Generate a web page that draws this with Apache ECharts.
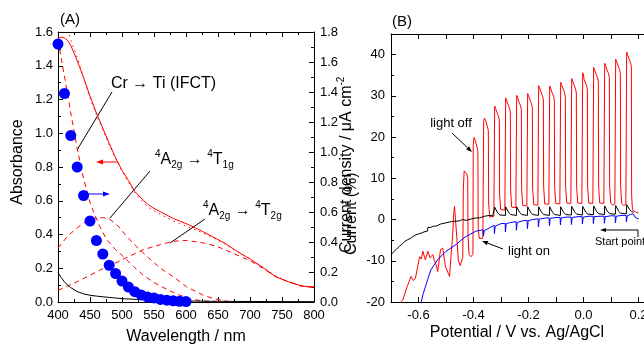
<!DOCTYPE html>
<html>
<head>
<meta charset="utf-8">
<script src="https://cdn.jsdelivr.net/npm/echarts@6/dist/echarts.min.js"></script>
<style>
  html, body { margin: 0; padding: 0; background: #fff; }
  #chart { width: 644px; height: 346px; }
</style>
</head>
<body>
<div id="chart"></div>
<script>
// ---------- panel (A): absorption spectrum + action spectrum ----------
const wl = [400, 405, 410, 415, 420, 430, 440, 450, 460, 470, 480, 490, 500, 510, 520, 530, 540, 550, 560, 570, 580, 590, 600, 620, 640, 660, 680, 700, 720, 740, 760, 780, 800];
const absMeasured = [1.56, 1.57, 1.565, 1.55, 1.52, 1.43, 1.33, 1.22, 1.12, 1.03, 0.94, 0.855, 0.78, 0.72, 0.655, 0.615, 0.58, 0.555, 0.535, 0.515, 0.495, 0.48, 0.465, 0.43, 0.39, 0.35, 0.30, 0.255, 0.205, 0.15, 0.12, 0.095, 0.09];
const absFit = [1.80, 1.72, 1.66, 1.61, 1.55, 1.45, 1.33, 1.21, 1.11, 1.02, 0.93, 0.85, 0.775, 0.71, 0.65, 0.60, 0.565, 0.54, 0.52, 0.50, 0.48, 0.465, 0.45, 0.42, 0.385, 0.345, 0.30, 0.255, 0.205, 0.155, 0.12, 0.095, 0.085];

const ifctWl = [400, 410, 420, 430, 440, 450, 456, 465, 476, 490, 502, 518, 533, 550, 570, 590, 610, 630, 650];
const ifctAbs = [1.55, 1.34, 1.12, 0.91, 0.73, 0.59, 0.53, 0.45, 0.37, 0.31, 0.27, 0.21, 0.16, 0.115, 0.075, 0.04, 0.015, 0.005, 0];

const t1gWl = [400, 415, 430, 445, 461, 471, 481, 494, 507, 522, 539, 560, 580, 601, 627, 643, 670];
const t1gAbs = [0.32, 0.39, 0.44, 0.48, 0.50, 0.50, 0.49, 0.45, 0.39, 0.33, 0.27, 0.20, 0.15, 0.09, 0.04, 0.02, 0];

const t2gWl = [400, 430, 466, 500, 533, 560, 580, 601, 627, 648, 670, 700, 720, 740, 760, 780, 800];
const t2gAbs = [0.07, 0.12, 0.19, 0.25, 0.31, 0.34, 0.36, 0.365, 0.35, 0.33, 0.295, 0.245, 0.20, 0.15, 0.12, 0.095, 0.085];

const bareWl = [400, 405, 410, 415, 420, 430, 440, 450, 460, 480, 500, 525, 550, 600, 650, 700, 800];
const bareAbs = [0.175, 0.145, 0.12, 0.10, 0.085, 0.062, 0.048, 0.04, 0.035, 0.027, 0.02, 0.015, 0.012, 0.006, 0.004, 0.003, 0.002];

const actionWl = [400, 410, 420, 430, 440, 450, 460, 470, 480, 490, 500, 510, 520, 530, 540, 550, 560, 570, 580, 590, 600];
const actionCurrent = [1.72, 1.39, 1.11, 0.90, 0.71, 0.54, 0.41, 0.32, 0.245, 0.19, 0.14, 0.10, 0.069, 0.047, 0.033, 0.027, 0.017, 0.012, 0.008, 0.005, 0.003];

// ---------- panel (B): chopped-light scans, [potential V, current uA cm-2] ----------
const redScan = [
  [-0.69, -24], [-0.675, -21.5], [-0.669, -20.3], [-0.657, -19.5], [-0.651, -19.1], [-0.645, -17], [-0.639, -15.9],
  [-0.627, -13.8], [-0.619, -14.8], [-0.611, -14.2], [-0.603, -11.4], [-0.596, -9.0], [-0.59, -9.6], [-0.584, -7.7],
  [-0.575, -9.8], [-0.566, -7.7], [-0.558, -9.3], [-0.548, -8.5], [-0.542, -10], [-0.536, -11], [-0.53, -12.6],
  [-0.524, -12.2], [-0.52, -7.3], [-0.512, -6.9], [-0.502, -11.4], [-0.492, -13], [-0.487, -13.8], [-0.481, -8.1],
  [-0.476, -4.1], [-0.472, 1.5], [-0.469, 3.2], [-0.466, 0.5], [-0.461, -4.1], [-0.455, -10], [-0.448, -11.2], [-0.442, -11.0],
  [-0.439, -9], [-0.437, 7.3], [-0.434, 11.8], [-0.43, 12.2], [-0.424, 11.0], [-0.421, 10.0], [-0.42, -4], [-0.416, -8.5], [-0.41, -9.0], [-0.404, -8.8],
  [-0.402, -8.5], [-0.401, 18], [-0.398, 19.9], [-0.393, 19.0], [-0.387, 17.5], [-0.384, 16.5], [-0.383, -2], [-0.379, -4.6], [-0.372, -4.9], [-0.366, -4.5],
  [-0.364, -4.3], [-0.363, 24.0], [-0.36, 24.6], [-0.355, 23.8], [-0.349, 22.5], [-0.346, 21.5], [-0.345, 4], [-0.341, 0.6], [-0.334, 0.3], [-0.326, 0.8],
  [-0.324, 1.0], [-0.323, 27.5], [-0.32, 27.0], [-0.315, 26.0], [-0.309, 25.0], [-0.306, 24.0], [-0.305, 6], [-0.301, 2.4], [-0.294, 2.0], [-0.286, 2.3],
  [-0.284, 2.4], [-0.283, 29.5], [-0.28, 29.0], [-0.275, 28.0], [-0.269, 27.0], [-0.266, 26.0], [-0.265, 7], [-0.261, 3.0], [-0.254, 2.6], [-0.246, 2.9],
  [-0.244, 3.0], [-0.243, 30.1], [-0.24, 29.6], [-0.235, 28.6], [-0.229, 27.6], [-0.226, 26.6], [-0.225, 7.5], [-0.221, 3.4], [-0.214, 3.0], [-0.206, 3.3],
  [-0.204, 3.3], [-0.203, 30.6], [-0.2, 30.1], [-0.195, 29.1], [-0.189, 28.1], [-0.186, 27.1], [-0.185, 7.5], [-0.181, 3.6], [-0.174, 3.2], [-0.166, 3.5],
  [-0.164, 3.5], [-0.163, 32.5], [-0.16, 32.0], [-0.155, 31.0], [-0.149, 30.0], [-0.146, 29.0], [-0.145, 8], [-0.141, 3.8], [-0.134, 3.4], [-0.126, 3.7],
  [-0.124, 3.7], [-0.123, 32.4], [-0.12, 31.9], [-0.115, 30.9], [-0.109, 29.9], [-0.106, 28.9], [-0.105, 8], [-0.101, 3.9], [-0.094, 3.5], [-0.086, 3.8],
  [-0.084, 3.8], [-0.083, 33.3], [-0.08, 32.8], [-0.075, 31.8], [-0.069, 30.8], [-0.066, 29.8], [-0.065, 8], [-0.061, 4.0], [-0.054, 3.6], [-0.046, 3.9],
  [-0.044, 3.9], [-0.043, 34.2], [-0.04, 33.7], [-0.035, 32.7], [-0.029, 31.7], [-0.026, 30.7], [-0.025, 8], [-0.021, 4.0], [-0.014, 3.6], [-0.006, 3.9],
  [-0.004, 3.9], [-0.003, 35.6], [0.0, 35.1], [0.002, 34.0], [0.005, 33.8], [0.011, 32.5], [0.014, 31.5], [0.015, 8], [0.019, 4.0], [0.026, 3.6], [0.034, 3.9],
  [0.036, 3.9], [0.037, 36.9], [0.04, 36.4], [0.045, 35.4], [0.051, 34.4], [0.054, 33.4], [0.055, 8], [0.059, 4.0], [0.066, 3.6], [0.074, 3.9],
  [0.076, 3.9], [0.077, 37.9], [0.08, 37.4], [0.085, 36.4], [0.091, 35.4], [0.094, 34.4], [0.095, 8], [0.099, 4.0], [0.106, 3.5], [0.114, 3.8],
  [0.116, 3.8], [0.117, 38.9], [0.12, 38.4], [0.125, 37.4], [0.131, 36.4], [0.134, 35.4], [0.135, 8], [0.139, 3.9], [0.146, 3.4], [0.154, 3.6],
  [0.156, 3.6], [0.157, 40.6], [0.16, 40.1], [0.165, 39.1], [0.171, 38.1], [0.174, 37.1], [0.175, 6], [0.178, 2.4], [0.183, 2.0], [0.19, 1.8], [0.2, 1.6]
];

const blackScan = [
  [-0.70, -8.5], [-0.69, -7.8], [-0.68, -7.2], [-0.67, -6.5], [-0.66, -6.0], [-0.65, -5.3], [-0.64, -4.9], [-0.63, -4.6],
  [-0.62, -4.1], [-0.609, -3.7], [-0.60, -3.5], [-0.59, -3.3], [-0.58, -3.0], [-0.567, -2.8], [-0.566, -1.9], [-0.555, -1.9],
  [-0.545, -1.6], [-0.536, -1.6], [-0.52, -1.1], [-0.50, -0.8], [-0.48, -0.5], [-0.463, -0.4], [-0.45, -0.3], [-0.44, 0],
  [-0.427, -0.2], [-0.41, 0.1], [-0.39, 0.4], [-0.378, 0.4], [-0.36, 0.8], [-0.342, 1.0], [-0.33, 0.9],
  [-0.324, 0.9], [-0.323, 3.0], [-0.318, 2.8], [-0.312, 1.6], [-0.304, 1.1],
  [-0.284, 1.0], [-0.283, 3.1], [-0.278, 2.9], [-0.272, 1.7], [-0.264, 1.2],
  [-0.244, 1.0], [-0.243, 3.1], [-0.238, 2.9], [-0.232, 1.7], [-0.224, 1.2],
  [-0.204, 1.0], [-0.203, 3.1], [-0.198, 2.9], [-0.192, 1.7], [-0.184, 1.2],
  [-0.164, 1.0], [-0.163, 3.1], [-0.158, 2.9], [-0.152, 1.7], [-0.144, 1.2],
  [-0.124, 1.0], [-0.123, 3.1], [-0.118, 2.9], [-0.112, 1.7], [-0.104, 1.2],
  [-0.084, 1.0], [-0.083, 3.1], [-0.078, 2.9], [-0.072, 1.7], [-0.064, 1.2],
  [-0.044, 1.1], [-0.043, 3.2], [-0.038, 3.0], [-0.032, 1.8], [-0.024, 1.3],
  [-0.004, 1.1], [-0.003, 3.2], [0.002, 3.0], [0.008, 1.8], [0.016, 1.3],
  [0.036, 1.2], [0.037, 3.3], [0.042, 3.1], [0.048, 1.9], [0.056, 1.4],
  [0.076, 1.2], [0.077, 3.3], [0.082, 3.1], [0.088, 1.9], [0.096, 1.4],
  [0.116, 1.3], [0.117, 3.4], [0.122, 3.2], [0.128, 2.0], [0.136, 1.5],
  [0.156, 1.4], [0.157, 3.6], [0.162, 3.3], [0.168, 2.4], [0.176, 1.9], [0.183, 1.8]
];

const blueScan = [
  [-0.592, -20.5], [-0.583, -18], [-0.573, -15.9], [-0.564, -14], [-0.555, -12.2], [-0.543, -11], [-0.531, -9.8],
  [-0.515, -8.7], [-0.50, -7.7], [-0.482, -6.9], [-0.464, -6.1], [-0.445, -5.0], [-0.427, -4.1], [-0.41, -3.5],
  [-0.391, -2.8], [-0.373, -2.6], [-0.365, -2.5], [-0.364, -4.0], [-0.361, -2.7], [-0.355, -2.4], [-0.336, -1.8],
  [-0.325, -1.4], [-0.324, -3.4], [-0.321, -1.6], [-0.30, -1.0], [-0.285, -0.9], [-0.284, -3.0], [-0.281, -1.0],
  [-0.27, -0.8], [-0.245, -0.5], [-0.244, -2.6], [-0.241, -0.7], [-0.22, -0.3], [-0.205, -0.2], [-0.204, -2.2],
  [-0.201, -0.3], [-0.185, 0], [-0.165, 0.2], [-0.164, -1.8], [-0.161, 0.1], [-0.135, 0.4], [-0.125, 0.4],
  [-0.124, -1.5], [-0.121, 0.3], [-0.10, 0.5], [-0.085, 0.5], [-0.084, -1.3], [-0.081, 0.4], [-0.06, 0.6],
  [-0.045, 0.6], [-0.044, -1.2], [-0.041, 0.5], [-0.02, 0.7], [-0.005, 0.7], [-0.004, -1.1], [-0.001, 0.6],
  [0.02, 0.8], [0.035, 0.8], [0.036, -1.0], [0.039, 0.7], [0.06, 0.8], [0.075, 0.8], [0.076, -0.9], [0.079, 0.7],
  [0.10, 0.9], [0.115, 0.9], [0.116, -0.8], [0.119, 0.8], [0.14, 1.0], [0.155, 1.0], [0.156, -0.6], [0.159, 0.9],
  [0.17, 1.2], [0.18, 1.4], [0.19, 0.4], [0.20, 0.2]
];

// ---------- helpers ----------
const FONT = '"Liberation Sans", Arial, sans-serif';
const RED = "#ff0000";
const BLUE = "#0000ff";

const pairs = (xs, ys) => xs.map((x, i) => [x, ys[i]]);

const measureCtx = document.createElement("canvas").getContext("2d");
const textWidth = (t, size) => {
  measureCtx.font = size + "px " + FONT;
  return measureCtx.measureText(t).width;
};

// text with super/subscripts, parts = [[text, 'n'|'sup'|'sub'], ...]
const richLabel = (x, y, parts, size, rotation) => {
  const small = Math.round(size * 0.62);
  let cx = 0;
  const children = parts.map(([t, kind]) => {
    const s = kind === "n" ? size : small;
    const dy = kind === "sup" ? -size * 0.38 : kind === "sub" ? size * 0.32 : 0;
    const el = {
      type: "text",
      x: cx,
      y: dy,
      style: { text: t, font: s + "px " + FONT, fill: "#000", textAlign: "left", textVerticalAlign: "middle" },
    };
    cx += textWidth(t, s);
    return el;
  });
  return { type: "group", x, y, rotation: rotation || 0, children, silent: true };
};

const plainText = (x, y, t, size, align, rotation) => ({
  type: "text",
  x, y,
  rotation: rotation || 0,
  silent: true,
  style: { text: t, font: size + "px " + FONT, fill: "#000", textAlign: align || "center", textVerticalAlign: "middle" },
});

const segment = (x1, y1, x2, y2, color) => ({
  type: "line",
  silent: true,
  shape: { x1, y1, x2, y2 },
  style: { stroke: color || "#000", lineWidth: 1 },
});

// arrow from (x1,y1) to head at (x2,y2)
const arrow = (x1, y1, x2, y2, color, len, half) => {
  const a = Math.atan2(y2 - y1, x2 - x1);
  const L = len || 6, H = half || 2.5;
  const bx = x2 - L * Math.cos(a), by = y2 - L * Math.sin(a);
  const px = -Math.sin(a) * H, py = Math.cos(a) * H;
  return [
    segment(x1, y1, bx, by, color),
    {
      type: "polygon",
      silent: true,
      shape: { points: [[x2, y2], [bx + px, by + py], [bx - px, by - py]] },
      style: { fill: color || "#000" },
    },
  ];
};

// ---------- axes ----------
const axisBase = (extra) => Object.assign({
  type: "value",
  axisLine: { show: true, onZero: false, lineStyle: { color: "#000", width: 1 } },
  axisTick: { show: true, inside: true, length: 5, lineStyle: { color: "#000" } },
  minorTick: { show: true, splitNumber: 2, length: 3, lineStyle: { color: "#000" } },
  splitLine: { show: false },
  minorSplitLine: { show: false },
  axisLabel: { color: "#000", fontFamily: FONT, fontSize: 13, margin: 6 },
}, extra);

const lineSeries = (data, color, type, xi, yi, z) => ({
  type: "line",
  xAxisIndex: xi,
  yAxisIndex: yi,
  data,
  showSymbol: false,
  symbol: "none",
  smooth: false,
  clip: true,
  silent: true,
  z: z || 2,
  lineStyle: { color, width: 1, type: type || "solid" },
});

const chart = echarts.init(document.getElementById("chart"), null, { renderer: "canvas" });

const option = {
  animation: false,
  backgroundColor: "#fff",
  grid: [
    { left: 58, top: 32, width: 256, height: 270, containLabel: false, outerBoundsMode: "none" },
    { left: 391, top: 34, width: 261.25, height: 268, containLabel: false, outerBoundsMode: "none" },
  ],
  xAxis: [
    axisBase({
      gridIndex: 0, position: "bottom", min: 400, max: 800, interval: 50,
      axisLabel: { color: "#000", fontFamily: FONT, fontSize: 13, margin: 7 },
    }),
    axisBase({
      gridIndex: 0, position: "top", min: 400, max: 800, interval: 50,
      axisLabel: { show: false },
    }),
    axisBase({
      gridIndex: 1, position: "bottom", min: -0.7, max: 0.25, interval: 0.1,
      minorTick: { show: false },
      axisLabel: {
        color: "#000", fontFamily: FONT, fontSize: 13, margin: 7,
        formatter: (v) => {
          const k = v * 10;
          if (Math.abs(k - Math.round(k)) > 1e-6 || Math.round(k) % 2 !== 0) return "";
          return v.toFixed(1);
        },
      },
    }),
    axisBase({
      gridIndex: 1, position: "top", min: -0.7, max: 0.25, interval: 0.1,
      minorTick: { show: false },
      axisLabel: { show: false },
    }),
  ],
  yAxis: [
    axisBase({
      gridIndex: 0, position: "left", min: 0, max: 1.6, interval: 0.2,
      axisLabel: { color: "#000", fontFamily: FONT, fontSize: 13, margin: 5, formatter: (v) => v.toFixed(1) },
    }),
    axisBase({
      gridIndex: 0, position: "right", min: 0, max: 1.8, interval: 0.2,
      axisLabel: { color: "#000", fontFamily: FONT, fontSize: 13, margin: 6, formatter: (v) => v.toFixed(1) },
    }),
    axisBase({
      gridIndex: 1, position: "left", min: -20, max: 45, interval: 10,
      axisLabel: {
        color: "#000", fontFamily: FONT, fontSize: 13, margin: 6,
        formatter: (v) => (v % 10 === 0 ? String(v) : ""),
      },
    }),
  ],
  series: [
    // panel A
    lineSeries(pairs(ifctWl, ifctAbs), RED, [5, 4], 0, 0),
    lineSeries(pairs(t1gWl, t1gAbs), RED, [5, 4], 0, 0),
    lineSeries(pairs(t2gWl, t2gAbs), RED, [5, 4], 0, 0),
    lineSeries(pairs(wl, absFit), RED, [1.5, 4], 0, 0),
    lineSeries(pairs(wl, absMeasured), RED, "solid", 0, 0),
    lineSeries(pairs(bareWl, bareAbs), "#000", "solid", 0, 0),
    {
      type: "scatter",
      xAxisIndex: 0,
      yAxisIndex: 1,
      data: pairs(actionWl, actionCurrent),
      symbol: "circle",
      symbolSize: 11,
      itemStyle: { color: BLUE, opacity: 1 },
      silent: true,
      z: 5,
    },
    // panel B
    lineSeries(redScan, RED, "solid", 2, 2, 2),
    lineSeries(blackScan, "#000", "solid", 2, 2, 3),
    lineSeries(blueScan, BLUE, "solid", 2, 2, 4),
  ],
  graphic: {
    elements: [
      plainText(70, 20, "(A)", 15),
      plainText(402, 22, "(B)", 15),
      plainText(18, 162, "Absorbance", 16, "center", Math.PI / 2),
      plainText(186, 337, "Wavelength / nm", 16),
      plainText(517, 333, "Potential / V vs. Ag/AgCl", 16),
      // right axis of (A) and left axis of (B) share the gap and overlap
      richLabel(352, 255, [["Current (%)", "n"]], 16, Math.PI / 2),
      richLabel(347, 253, [["Current density / \u03bcA cm", "n"], ["-2", "sup"]], 16, Math.PI / 2),

      // (A) annotations
      richLabel(111, 84, [["Cr \u2192 Ti (IFCT)", "n"]], 16),
      segment(112, 92, 77, 150),
      richLabel(155, 160, [["4", "sup"], ["A", "n"], ["2g", "sub"], [" \u2192 ", "n"], ["4", "sup"], ["T", "n"], ["1g", "sub"]], 16),
      segment(150, 171, 110, 218),
      richLabel(203, 211, [["4", "sup"], ["A", "n"], ["2g", "sub"], [" \u2192 ", "n"], ["4", "sup"], ["T", "n"], ["2g", "sub"]], 16),
      segment(205, 219, 170, 243),
      ...arrow(118, 162, 96, 162, RED, 7, 2.5),
      ...arrow(88, 194, 110, 194, BLUE, 7, 2.5),

      // (B) annotations
      plainText(451, 123, "light off", 13),
      ...arrow(452, 133, 472, 152, "#000", 6, 2.2),
      plainText(508, 251, "light on", 13, "left"),
      ...arrow(503, 249, 482, 241, "#000", 6, 2.2),
      plainText(595, 242, "Start point", 11, "left"),
      segment(638, 237, 638, 230),
      ...arrow(638, 230, 600, 230, "#000", 6, 2),
    ],
  },
};

chart.setOption(option);
</script>
</body>
</html>
